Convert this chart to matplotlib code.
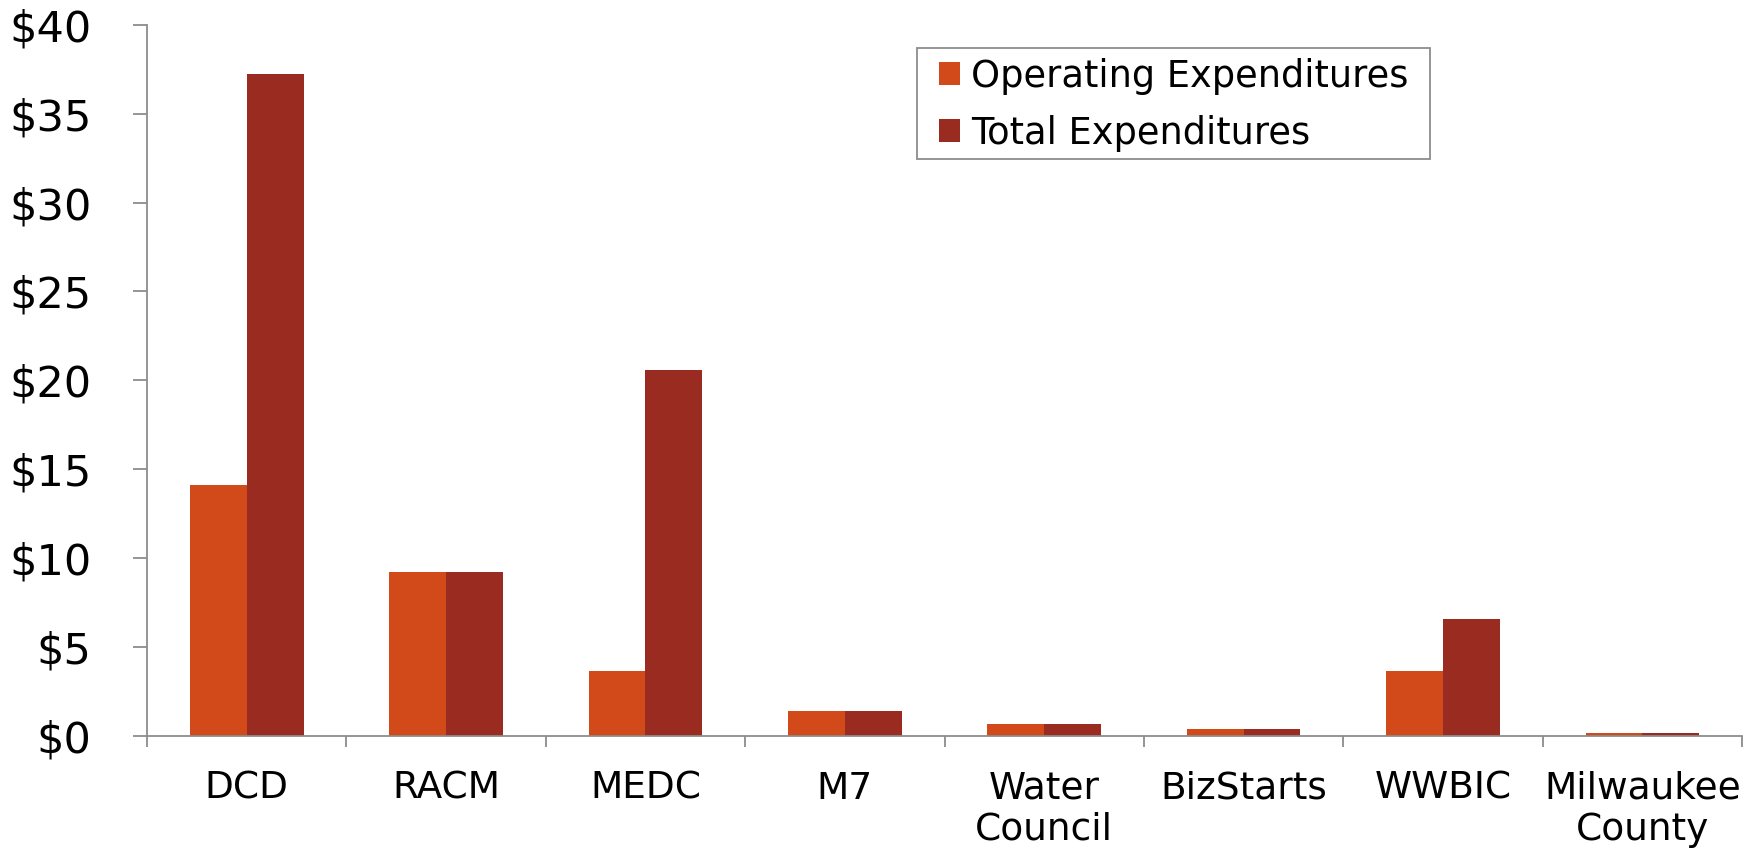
import matplotlib.pyplot as plt
from matplotlib.patches import Rectangle
import numpy as np

categories = ['DCD', 'RACM', 'MEDC', 'M7', 'Water\nCouncil', 'BizStarts', 'WWBIC', 'Milwaukee\nCounty']
operating = [14.1, 9.25, 3.65, 1.43, 0.7, 0.4, 3.65, 0.2]
total = [37.2, 9.25, 20.6, 1.43, 0.7, 0.4, 6.6, 0.2]
yticks = [0, 5, 10, 15, 20, 25, 30, 35, 40]

c_op = '#D24A19'
c_tot = '#9A2B20'
axis_col = '#8c8c8c'

fig = plt.figure(figsize=(17.57, 8.5), dpi=100)
ax = fig.add_axes([0.0837, 0.134, 0.9078, 0.837])

x = np.arange(len(categories))
w = 0.285
ax.bar(x - w / 2, operating, w, color=c_op, label='Operating Expenditures')
ax.bar(x + w / 2, total, w, color=c_tot, label='Total Expenditures')

ax.set_xlim(-0.5, len(categories) - 0.5)
ax.set_ylim(0, 40)
ax.set_yticks(yticks)
ax.set_yticklabels(['$%d' % v for v in yticks], fontsize=31)

ax.set_xticks(x)
ax.set_xticklabels(categories, fontsize=27, linespacing=1.18)
ax.tick_params(axis='x', length=0, pad=25)
# boundary ticks between categories
ax.set_xticks(np.arange(-0.5, len(categories)), minor=True)
ax.tick_params(axis='x', which='minor', length=8, color=axis_col, width=1.3)
ax.tick_params(axis='y', length=10, color=axis_col, width=1.3, pad=30)

for s in ['top', 'right']:
    ax.spines[s].set_visible(False)
for s in ['left', 'bottom']:
    ax.spines[s].set_color(axis_col)
    ax.spines[s].set_linewidth(1.3)

# legend without its own frame, box drawn separately (wider side padding)
leg = ax.legend(loc='upper left', bbox_to_anchor=(0.490, 0.968), fontsize=26.5,
                frameon=False, handlelength=0.58, handleheight=0.58,
                handletextpad=0.3, borderpad=0.28, labelspacing=0.54,
                borderaxespad=0)
ax.add_patch(Rectangle((0.4828, 0.8115), 0.3216, 0.1559, transform=ax.transAxes,
                       fill=False, edgecolor=axis_col, linewidth=1.3,
                       clip_on=False, zorder=5))

fig.savefig('out.png', dpi=100)
